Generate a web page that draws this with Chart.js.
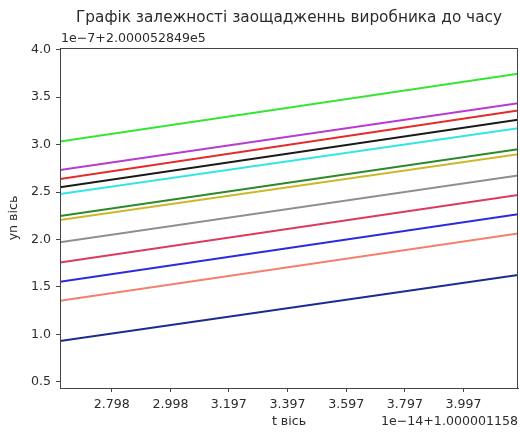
<!DOCTYPE html>
<html>
<head>
<meta charset="utf-8">
<script src="https://cdn.jsdelivr.net/npm/chart.js@4"></script>
<style>
  html, body { margin: 0; padding: 0; background: #fff; }
  #wrap { width: 520px; height: 432px; }
</style>
</head>
<body>
<div id="wrap"><canvas id="c" width="520" height="432"></canvas></div>
<script>
// Time axis (offset 1e-14 + 1.000001158) and savings (offset 1e-7 + 2.000052849e5)
const tRange = [2.6217, 4.1825];
const tTicks = [2.798, 2.998, 3.197, 3.397, 3.597, 3.797, 3.997];
const tTickLabels = ["2.798", "2.998", "3.197", "3.397", "3.597", "3.797", "3.997"];
const yTicks = [0.5, 1.0, 1.5, 2.0, 2.5, 3.0, 3.5, 4.0];
const yTickLabels = ["0.5", "1.0", "1.5", "2.0", "2.5", "3.0", "3.5", "4.0"];

// Savings at the first and last time step for each producer
const lime    = [3.032, 3.747];
const magenta = [2.733, 3.437];
const red     = [2.638, 3.359];
const black   = [2.550, 3.261];
const cyan    = [2.479, 3.173];
const green   = [2.247, 2.951];
const olive   = [2.205, 2.899];
const gray    = [1.969, 2.673];
const crimson = [1.758, 2.469];
const blue    = [1.553, 2.265];
const salmon  = [1.353, 2.064];
const navy    = [0.930, 1.624];

const seriesList = [
  [lime,    "#33e633"],
  [magenta, "#b93ad0"],
  [red,     "#e52a2a"],
  [black,   "#1a1a1a"],
  [cyan,    "#33e6e6"],
  [green,   "#2a8a2a"],
  [olive,   "#c9b92a"],
  [gray,    "#8f8f8f"],
  [crimson, "#dc3a5a"],
  [blue,    "#2a2ae0"],
  [salmon,  "#f2806a"],
  [navy,    "#1a2a90"]
];

const FONT = "'DejaVu Sans', sans-serif";
const TEXT = "#2b2b2b";
const SMALL = 12.6;

const datasets = seriesList.map(([vals, col]) => ({
  data: vals.map((v, i) => ({ x: tRange[i], y: v })),
  borderColor: col,
  borderWidth: 2,
  pointRadius: 0,
  tension: 0,
  fill: false
}));

const decor = {
  id: 'decor',
  afterDatasetsDraw(chart) {
    const { ctx, chartArea: a } = chart;
    ctx.save();
    ctx.strokeStyle = "#444";
    ctx.lineWidth = 1;
    ctx.strokeRect(a.left + 0.5, a.top + 0.5, a.right - a.left - 1, a.bottom - a.top);
    ctx.restore();
  },
  afterDraw(chart) {
    const { ctx, chartArea: a } = chart;
    const cx = (a.left + a.right) / 2;
    ctx.save();
    ctx.fillStyle = TEXT;
    ctx.textBaseline = 'middle';
    ctx.font = "15.3px " + FONT;
    ctx.textAlign = 'center';
    ctx.fillText("Графік залежності заощадженнь виробника до часу", cx, 18);
    ctx.font = SMALL + "px " + FONT;
    ctx.textAlign = 'left';
    ctx.fillText("1e\u22127+2.000052849e5", a.left + 1, 39);
    ctx.textAlign = 'center';
    ctx.fillText("t вісь", cx, 422);
    ctx.textAlign = 'right';
    ctx.fillText("1e\u221214+1.000001158", a.right, 422);
    ctx.translate(14, (a.top + a.bottom) / 2);
    ctx.rotate(-Math.PI / 2);
    ctx.textAlign = 'center';
    ctx.fillText("yn вісь", 0, 0);
    ctx.restore();
  }
};

new Chart(document.getElementById('c'), {
  type: 'line',
  data: { datasets },
  options: {
    responsive: false,
    animation: false,
    layout: { padding: { top: 48, right: 2, bottom: 0, left: 0 } },
    plugins: { legend: { display: false }, tooltip: { enabled: false }, title: { display: false } },
    scales: {
      x: {
        type: 'linear',
        min: tRange[0],
        max: tRange[1],
        afterBuildTicks: s => { s.ticks = tTicks.map(v => ({ value: v })); },
        afterFit: s => { s.height = 44; },
        ticks: {
          callback: (v, i) => tTickLabels[i],
          color: TEXT,
          font: { family: FONT, size: SMALL },
          padding: 5,
          maxRotation: 0,
          autoSkip: false
        },
        grid: { drawOnChartArea: false, drawTicks: true, tickLength: 4, tickColor: "#444" },
        border: { display: true, color: "#444" }
      },
      y: {
        type: 'linear',
        min: 0.434,
        max: 4.018,
        afterBuildTicks: s => { s.ticks = yTicks.map(v => ({ value: v })); },
        afterFit: s => { s.width = 60; },
        ticks: {
          callback: (v, i) => yTickLabels[i],
          color: TEXT,
          font: { family: FONT, size: SMALL },
          padding: 5,
          autoSkip: false
        },
        grid: { drawOnChartArea: false, drawTicks: true, tickLength: 4, tickColor: "#444" },
        border: { display: true, color: "#444" }
      }
    }
  },
  plugins: [decor]
});
</script>
</body>
</html>
